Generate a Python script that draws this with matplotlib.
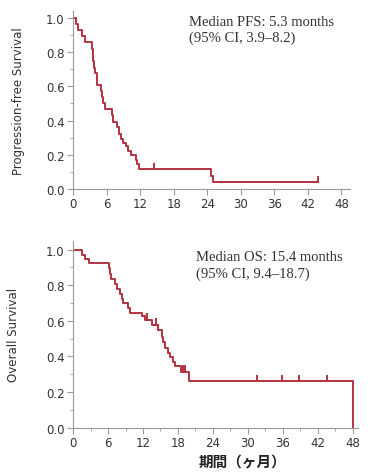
import matplotlib.pyplot as plt
import numpy as np
from matplotlib.ticker import MultipleLocator, FormatStrFormatter

# PFS step curve (months, survival after the step)
pfs_t = [0, 0.6, 0.9, 1.6, 2.1, 3.3, 3.5, 3.8, 4.0, 4.2, 5.0, 5.2, 5.4, 5.7,
         6.9, 7.2, 7.9, 8.2, 8.6, 9.0, 9.4, 9.9, 10.4, 11.2, 11.5, 11.8,
         24.6, 25.1, 43.8]
pfs_s = [1.0, 0.965, 0.93, 0.895, 0.86, 0.82, 0.75, 0.71, 0.68, 0.61, 0.57, 0.54, 0.50, 0.47,
         0.43, 0.39, 0.36, 0.32, 0.29, 0.27, 0.25, 0.22, 0.20, 0.17, 0.145, 0.115,
         0.075, 0.04, 0.04]
pfs_cens = [14.5, 43.8]

# OS step curve
os_t = [0, 1.6, 2.0, 2.7, 6.2, 6.35, 6.5, 7.2, 7.6, 8.0, 8.4, 8.6, 9.5, 9.75,
        11.8, 12.3, 13.5, 14.5, 15.2, 15.5, 15.8, 16.3, 16.6, 17.2, 17.5, 18.6,
        19.9, 48.0]
os_s = [1.0, 0.972, 0.945, 0.922, 0.895, 0.865, 0.835, 0.806, 0.778, 0.75, 0.725, 0.70, 0.672, 0.645,
        0.625, 0.607, 0.578, 0.548, 0.51, 0.48, 0.45, 0.422, 0.395, 0.367, 0.345, 0.315,
        0.262, 0.0]
os_cens = [12.7, 14.2, 14.5, 18.9, 19.2, 31.5, 35.8, 38.8, 43.6]

red = '#b3343f'
gray = '#9a9a9a'
txt = '#333333'

fig = plt.figure(figsize=(3.71, 4.77), dpi=100)
ax1 = fig.add_axes([0.197, 0.6017, 0.746, 0.373])
ax2 = fig.add_axes([0.197, 0.1013, 0.768, 0.392])


def km(ax, t, s, cens, xmax, ymax, label, minor_x):
    ax.step(t, s, where='post', color=red, lw=1.4)
    for c in cens:
        y = s[np.searchsorted(t, c, side='right') - 1]
        ax.plot([c, c], [y, y + 0.03], color=red, lw=1.4)
    ax.set_xlim(0, xmax)
    ax.set_ylim(0, ymax)
    for sp in ['top', 'right']:
        ax.spines[sp].set_visible(False)
    for sp in ['left', 'bottom']:
        ax.spines[sp].set_color(gray)
        ax.spines[sp].set_linewidth(0.8)
    ax.set_xticks(np.arange(0, 49, 6))
    ax.set_yticks(np.arange(0, 1.01, 0.2))
    ax.yaxis.set_major_formatter(FormatStrFormatter('%.1f'))
    ax.yaxis.set_minor_locator(MultipleLocator(0.1))
    if minor_x:
        ax.xaxis.set_minor_locator(MultipleLocator(3))
    ax.tick_params(which='major', length=4, color=gray, labelsize=8.5, labelcolor=txt, pad=2)
    ax.tick_params(which='minor', length=2.5, color=gray)
    ax.set_ylabel(label, fontsize=8.5, color=txt)


km(ax1, pfs_t, pfs_s, pfs_cens, 49.5, 1.04, 'Progression-free Survival', False)
km(ax2, os_t, os_s, os_cens, 48.9, 1.05, 'Overall Survival', True)
ax1.yaxis.set_label_coords(-0.173, 0.5)
ax2.yaxis.set_label_coords(-0.186, 0.5)

ax1.text(0.42, 0.895, 'Median PFS: 5.3 months\n(95% CI, 3.9\u20138.2)', transform=ax1.transAxes,
         fontsize=10.5, family='Liberation Serif', color=txt, va='center', ha='left', linespacing=1.25)
ax2.text(0.43, 0.87, 'Median OS: 15.4 months\n(95% CI, 9.4\u201318.7)', transform=ax2.transAxes,
         fontsize=10.5, family='Liberation Serif', color=txt, va='center', ha='left', linespacing=1.25)

fig.text(243 / 371, 1 - 462 / 477, '期間（ヶ月）', ha='center', va='center', fontsize=10.5,
         fontweight='bold', family=['Noto Sans CJK JP', 'DejaVu Sans'], color='#222222')

fig.savefig('out.png', dpi=100)
